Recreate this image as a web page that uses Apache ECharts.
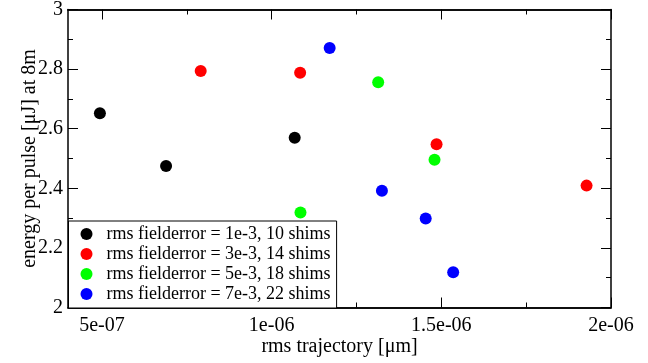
<!DOCTYPE html>
<html>
<head>
<meta charset="utf-8">
<script src="https://cdn.jsdelivr.net/npm/echarts@6/dist/echarts.min.js"></script>
<style>
  html, body { margin: 0; padding: 0; background: #fff; }
  #chart { width: 648px; height: 363px; }
</style>
</head>
<body>
<div id="chart"></div>
<script>
// data (x in metres, y in uJ)
const seriesNames = [
  "rms fielderror = 1e-3, 10 shims",
  "rms fielderror = 3e-3, 14 shims",
  "rms fielderror = 5e-3, 18 shims",
  "rms fielderror = 7e-3, 22 shims"
];
const seriesColors = ["#000000", "#ff0000", "#00ff00", "#0000ff"];
const shims10 = [[4.94e-7, 2.652], [6.89e-7, 2.475], [1.068e-6, 2.570]];
const shims14 = [[7.91e-7, 2.794], [1.084e-6, 2.788], [1.486e-6, 2.548], [1.928e-6, 2.409]];
const shims18 = [[1.085e-6, 2.319], [1.314e-6, 2.756], [1.480e-6, 2.496]];
const shims22 = [[1.171e-6, 2.871], [1.325e-6, 2.392], [1.454e-6, 2.299], [1.535e-6, 2.118]];
const xMajorTicks = [5e-7, 1e-6, 1.5e-6, 2e-6];
const xMinorTicks = [7.5e-7, 1.25e-6, 1.75e-6];

const FONT = "Liberation Serif";

function expLabel(v) {
  const parts = v.toExponential().split("e");
  const sign = parts[1][0];
  const digits = parts[1].slice(1).padStart(2, "0");
  return parts[0] + "e" + sign + digits;
}

function xAxisDef(pos, ticks, len, withLabels) {
  return {
    type: "value",
    position: pos,
    min: 4e-7,
    max: 2e-6,
    name: withLabels ? "rms trajectory [\u03bcm]" : "",
    nameLocation: "middle",
    nameGap: 29,
    nameMoveOverlap: false,
    nameTextStyle: { fontFamily: FONT, fontSize: 20, color: "#000" },
    axisLine: { show: true, onZero: false, lineStyle: { color: "#000", width: 1.5 } },
    axisTick: { show: true, inside: true, length: len, customValues: ticks, lineStyle: { color: "#000", width: 1 } },
    axisLabel: {
      show: withLabels,
      customValues: ticks,
      margin: 8,
      fontFamily: FONT,
      fontSize: 20,
      color: "#000",
      formatter: expLabel
    },
    splitLine: { show: false }
  };
}

function yAxisDef(pos, withLabels) {
  return {
    type: "value",
    position: pos,
    min: 2,
    max: 3,
    interval: 0.2,
    name: withLabels ? "energy per pulse [\u03bcJ] at 8m" : "",
    nameLocation: "middle",
    nameGap: 28,
    nameMoveOverlap: false,
    nameTextStyle: { fontFamily: FONT, fontSize: 20, color: "#000" },
    axisLine: { show: true, onZero: false, lineStyle: { color: "#000", width: 1.5 } },
    axisTick: { show: true, inside: true, length: 10, lineStyle: { color: "#000", width: 1 } },
    minorTick: { show: true, splitNumber: 2, length: 5, lineStyle: { color: "#000", width: 1 } },
    axisLabel: { show: withLabels, margin: 5, fontFamily: FONT, fontSize: 20, color: "#000" },
    splitLine: { show: false },
    minorSplitLine: { show: false }
  };
}

const chart = echarts.init(document.getElementById("chart"), null, { renderer: "canvas" });

const allData = [shims10, shims14, shims18, shims22];

chart.setOption({
  animation: false,
  backgroundColor: "#fff",
  grid: { left: 68, right: 37, top: 9.5, bottom: 55.5, containLabel: false, outerBoundsMode: "none" },
  xAxis: [
    xAxisDef("bottom", xMajorTicks, 10, true),
    xAxisDef("bottom", xMinorTicks, 5, false),
    xAxisDef("top", xMajorTicks, 10, false),
    xAxisDef("top", xMinorTicks, 5, false)
  ],
  yAxis: [yAxisDef("left", true), yAxisDef("right", false)],
  legend: {
    orient: "vertical",
    left: 68.5,
    top: 221,
    data: seriesNames,
    icon: "circle",
    itemWidth: 12,
    itemHeight: 12,
    itemGap: 0,
    padding: [3, 6, 4, 12],
    backgroundColor: "#fff",
    borderColor: "#000",
    borderWidth: 1,
    textStyle: { fontFamily: FONT, fontSize: 18, color: "#000", lineHeight: 20, padding: [0, 0, 0, 9] }
  },
  series: allData.map((d, i) => ({
    name: seriesNames[i],
    type: "scatter",
    xAxisIndex: 0,
    yAxisIndex: 0,
    data: d,
    symbol: "circle",
    symbolSize: 12,
    itemStyle: { color: seriesColors[i], opacity: 1 },
    z: 3
  }))
});
</script>
</body>
</html>
